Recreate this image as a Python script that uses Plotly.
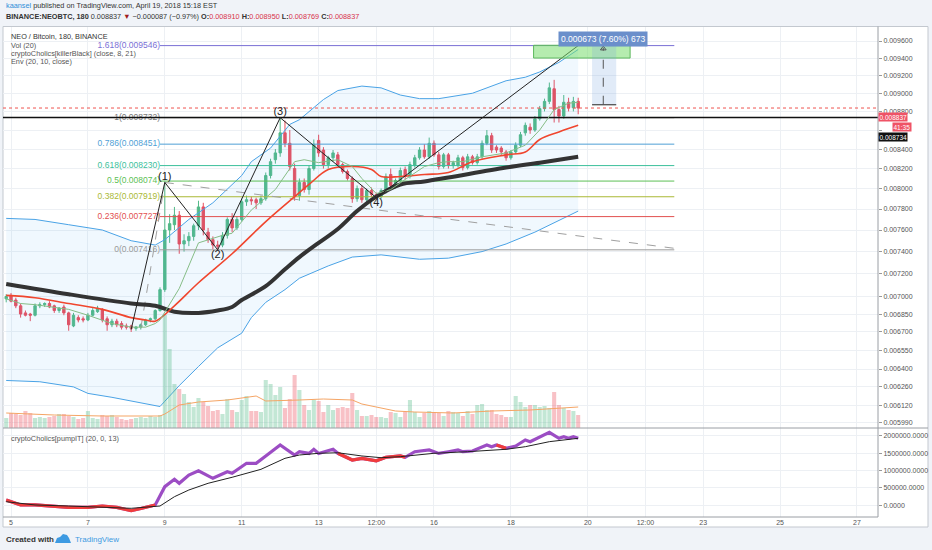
import numpy as np
import pandas as pd
import plotly.graph_objects as go

# NEO/BTC 3h bars, Binance
barStart = "2018-04-04 21:00"
numBars = 120

opens = [0.00698, 0.00701, 0.00697, 0.00692, 0.00686, 0.00685, 0.00684, 0.00692, 0.00693, 0.00694,
         0.00692, 0.00688, 0.00691, 0.00686, 0.00675, 0.00682, 0.00681, 0.00680, 0.00684, 0.00687,
         0.00689, 0.00681, 0.00676, 0.00679, 0.00677, 0.00675, 0.00675, 0.00673, 0.00674, 0.00676,
         0.00680, 0.00681, 0.00688, 0.00706, 0.00760, 0.00765, 0.00774, 0.00747, 0.00750, 0.00754,
         0.00764, 0.00782, 0.00758, 0.00751, 0.00746, 0.00746, 0.00755, 0.00770, 0.00762, 0.00770,
         0.00787, 0.00789, 0.00789, 0.00786, 0.00790, 0.00813, 0.00829, 0.00836, 0.00857, 0.00846,
         0.00820, 0.00793, 0.00806, 0.00799, 0.00820, 0.00849, 0.00839, 0.00824, 0.00831, 0.00834,
         0.00824, 0.00817, 0.00810, 0.00790, 0.00800, 0.00789, 0.00798, 0.00794, 0.00792, 0.00797,
         0.00814, 0.00803, 0.00808, 0.00819, 0.00812, 0.00823, 0.00831, 0.00839, 0.00832, 0.00846,
         0.00834, 0.00822, 0.00834, 0.00823, 0.00823, 0.00831, 0.00821, 0.00832, 0.00826, 0.00832,
         0.00846, 0.00854, 0.00842, 0.00841, 0.00837, 0.00831, 0.00837, 0.00844, 0.00857, 0.00863,
         0.00860, 0.00872, 0.00883, 0.00891, 0.00905, 0.00882, 0.00875, 0.00890, 0.00884, 0.008910]
highs = [0.00702, 0.00703, 0.00699, 0.00694, 0.00688, 0.00686, 0.00694, 0.00695, 0.00695, 0.00696,
         0.00693, 0.00691, 0.00693, 0.00687, 0.00686, 0.00684, 0.00683, 0.00686, 0.00690, 0.00692,
         0.00690, 0.00683, 0.00681, 0.00681, 0.00679, 0.00677, 0.00676, 0.00675, 0.00677, 0.00681,
         0.00682, 0.00689, 0.00708, 0.00807, 0.00775, 0.00782, 0.00778, 0.00756, 0.00758, 0.00766,
         0.00788, 0.00786, 0.00762, 0.00754, 0.00750, 0.00758, 0.00772, 0.00776, 0.00773, 0.00790,
         0.00793, 0.00792, 0.00791, 0.00793, 0.00816, 0.00830, 0.00840, 0.008732, 0.00870, 0.00860,
         0.00825, 0.00810, 0.00810, 0.00823, 0.00850, 0.00855, 0.00842, 0.00833, 0.00839, 0.00837,
         0.00826, 0.00819, 0.00812, 0.00803, 0.00803, 0.00800, 0.00801, 0.00796, 0.00800, 0.00815,
         0.00820, 0.00810, 0.00821, 0.00822, 0.00827, 0.00834, 0.00842, 0.00845, 0.00852, 0.00849,
         0.00837, 0.00836, 0.00836, 0.00828, 0.00834, 0.00833, 0.00835, 0.00834, 0.00835, 0.00849,
         0.00860, 0.00857, 0.00844, 0.00843, 0.00839, 0.00839, 0.00847, 0.00858, 0.00868, 0.00867,
         0.00875, 0.00886, 0.00894, 0.00912, 0.00915, 0.00886, 0.00898, 0.00895, 0.00896, 0.008950]
lows = [0.00695, 0.00695, 0.00690, 0.00682, 0.00683, 0.00679, 0.00683, 0.00690, 0.00691, 0.00690,
        0.00686, 0.00686, 0.00684, 0.00671, 0.00674, 0.00678, 0.00678, 0.00679, 0.00683, 0.00686,
        0.00678, 0.00671, 0.00674, 0.00674, 0.00672, 0.00672, 0.00670, 0.00671, 0.00672, 0.00675,
        0.00678, 0.00680, 0.00687, 0.00704, 0.00748, 0.00760, 0.00738, 0.00740, 0.00745, 0.00750,
        0.00760, 0.00755, 0.00748, 0.00742, 0.007416, 0.00744, 0.00752, 0.00758, 0.00760, 0.00768,
        0.00783, 0.00784, 0.00780, 0.00784, 0.00788, 0.00810, 0.00825, 0.00832, 0.00842, 0.00818,
        0.00788, 0.00788, 0.00796, 0.00794, 0.00818, 0.00832, 0.00820, 0.00820, 0.00827, 0.00822,
        0.00815, 0.00808, 0.00786, 0.00787, 0.00786, 0.00786, 0.00792, 0.00790, 0.00790, 0.00795,
        0.00800, 0.00800, 0.00806, 0.00809, 0.00810, 0.00821, 0.00829, 0.00830, 0.00830, 0.00832,
        0.00819, 0.00820, 0.00820, 0.00820, 0.00821, 0.00818, 0.00819, 0.00824, 0.00824, 0.00830,
        0.00844, 0.00836, 0.00836, 0.00834, 0.00828, 0.00829, 0.00835, 0.00842, 0.00854, 0.00856,
        0.00858, 0.00870, 0.00880, 0.00888, 0.00868, 0.00868, 0.00872, 0.00880, 0.00880, 0.008769]
closes = [0.00700, 0.00696, 0.00692, 0.00685, 0.00684, 0.00684, 0.00692, 0.00693, 0.00694, 0.00691,
          0.00688, 0.00690, 0.00686, 0.00676, 0.00684, 0.00680, 0.00680, 0.00684, 0.00688, 0.00690,
          0.00680, 0.00676, 0.00679, 0.00676, 0.00674, 0.00674, 0.00673, 0.00674, 0.00676, 0.00680,
          0.00681, 0.00688, 0.00706, 0.00760, 0.00766, 0.00774, 0.00747, 0.00750, 0.00754, 0.00764,
          0.00782, 0.00760, 0.00751, 0.00746, 0.00745, 0.00755, 0.00770, 0.00762, 0.00770, 0.00787,
          0.00789, 0.00788, 0.00786, 0.00790, 0.00813, 0.00827, 0.00836, 0.00857, 0.00846, 0.00822,
          0.00792, 0.00806, 0.00799, 0.00820, 0.00845, 0.00836, 0.00824, 0.00831, 0.00836, 0.00824,
          0.00817, 0.00810, 0.00790, 0.00800, 0.00789, 0.00798, 0.00794, 0.00792, 0.00798, 0.00812,
          0.00803, 0.00808, 0.00818, 0.00812, 0.00824, 0.00831, 0.00839, 0.00832, 0.00846, 0.00834,
          0.00822, 0.00834, 0.00823, 0.00826, 0.00831, 0.00821, 0.00832, 0.00826, 0.00832, 0.00846,
          0.00854, 0.00839, 0.00839, 0.00837, 0.00831, 0.00837, 0.00844, 0.00855, 0.00865, 0.00860,
          0.00872, 0.00883, 0.00891, 0.00906, 0.00882, 0.00875, 0.00890, 0.00884, 0.00891, 0.008837]
# relative volume (bar heights, arbitrary units)
volumes = [10, 15, 14, 13, 17, 15, 10, 11, 10, 11, 12, 14, 14, 12, 11, 9, 10, 17, 10, 9,
           13, 12, 13, 11, 9, 8, 9, 10, 11, 10, 12, 11, 13,
           113, 79, 44, 39, 34, 26, 21, 30, 26, 22, 17, 18, 14, 29, 18, 16, 28, 32, 17, 17,
           16, 48, 44, 33, 41, 20, 29, 53, 38, 23, 18, 28, 27, 16, 23, 18, 20, 21, 20, 35,
           18, 12, 12, 13, 11, 11, 10, 16, 15, 11, 16, 28, 16, 11, 15, 17, 16, 15, 12, 17,
           16, 15, 12, 17, 14, 23, 24, 18, 18, 14, 13, 11, 11, 32, 26, 21, 23, 23, 21, 22,
           20, 36, 23, 20, 18, 17, 13]

# indicator lines, read at selected bars (bar index, value)
fastIdx = [0, 3, 6, 13, 17, 22, 26, 29, 31, 32, 36, 40, 45, 47, 51, 56, 60, 62, 65, 69,
           72, 74, 77, 80, 83, 87, 90, 92, 95, 99, 104, 108, 111, 114, 117, 119]
fastVal = [0.00698, 0.00694, 0.00693, 0.00689, 0.00684, 0.00677, 0.00674, 0.00674, 0.00677, 0.00680,
           0.00707, 0.00748, 0.00755, 0.00757, 0.00779, 0.00799, 0.00827, 0.00829, 0.00826, 0.00829,
           0.00822, 0.00810, 0.00795, 0.00799, 0.00809, 0.00822, 0.00826, 0.00827, 0.00827, 0.00832,
           0.00836, 0.00844, 0.00860, 0.00882, 0.00889, 0.00890]
redIdx = [0, 6, 13, 20, 26, 29, 31, 35, 40, 47, 54, 60, 63, 67, 72, 76, 78, 82, 87, 92,
          97, 104, 108, 111, 115, 119]
redVal = [0.00701, 0.00699, 0.00694, 0.00689, 0.00682, 0.00680, 0.00679, 0.00692, 0.00712, 0.00738,
          0.00768, 0.00792, 0.00804, 0.00819, 0.00822, 0.00819, 0.00812, 0.00812, 0.00814, 0.00816,
          0.00827, 0.00834, 0.00837, 0.00850, 0.00858, 0.00865]
slowIdx = [0, 13, 26, 31, 35, 40, 44, 47, 49, 54, 58, 61, 65, 69, 73, 77, 82, 87, 92, 104, 111, 119]
slowVal = [0.00711, 0.00702, 0.00694, 0.00692, 0.00687, 0.00686, 0.00688, 0.00691, 0.00697, 0.00709,
           0.00724, 0.00735, 0.00748, 0.00761, 0.00778, 0.00792, 0.00804, 0.00807, 0.00811, 0.00821,
           0.00826, 0.00832]
envUpIdx = [0, 6, 13, 20, 26, 31, 33, 38, 43, 49, 51, 55, 59, 61, 66, 69, 74, 78, 82, 86,
            90, 97, 104, 108, 111, 115, 119]
envUpVal = [0.00771, 0.00770, 0.00765, 0.00760, 0.00750, 0.00746, 0.00751, 0.00770, 0.00786, 0.00813,
            0.00827, 0.00841, 0.00866, 0.00871, 0.00893, 0.00903, 0.00908, 0.00906, 0.00898, 0.00894,
            0.00894, 0.00900, 0.00914, 0.00918, 0.00924, 0.00935, 0.00950]
envLoIdx = [0, 7, 14, 17, 22, 29, 32, 33, 36, 40, 44, 49, 51, 54, 58, 61, 67, 72, 78, 86,
            92, 99, 104, 110, 115, 119]
envLoVal = [0.00631, 0.00630, 0.00626, 0.00621, 0.00618, 0.00613, 0.00611, 0.00615, 0.00627, 0.00642,
            0.00657, 0.00669, 0.00682, 0.00695, 0.00706, 0.00716, 0.00727, 0.00735, 0.00737, 0.00733,
            0.00734, 0.00740, 0.00747, 0.00758, 0.00769, 0.00778]
volMaIdx = [0, 10, 20, 32, 33, 36, 40, 46, 52, 54, 61, 66, 72, 74, 81, 85, 93, 101, 109, 119]
volMaVal = [15, 13, 12, 12, 14, 23, 26, 28, 32, 27, 28, 29, 28, 24, 17, 16, 15, 17, 18, 21]

pumpIdx = [0, 3, 6, 9, 13, 17, 20, 23, 26, 28, 31, 33, 35, 36, 38, 40, 43, 46, 47, 50,
           52, 54, 57, 60, 61, 63, 64, 65, 68, 69, 72, 74, 77, 79, 82, 83, 85, 88, 90, 92,
           94, 95, 97, 100, 101, 102, 104, 106, 108, 109, 113, 115, 116, 117, 118, 119]
pumpVal = [150000, 10000, 10000, -20000, -60000, -60000, -20000, -60000, -155000, -90000,
           10000, 535000, 747000, 632000, 870000, 994000, 776000, 966000, 920000, 1207000,
           1207000, 1417000, 1733000, 1445000, 1540000, 1490000, 1609000, 1490000, 1609000, 1494000,
           1300000, 1350000, 1280000, 1380000, 1417000, 1380000, 1540000, 1589000, 1490000, 1540000,
           1589000, 1540000, 1560000, 1733000, 1680000, 1733000, 1638000, 1704000, 1876000, 1828000,
           2098000, 1925000, 1970000, 1925000, 1970000, 1925000]
pumpRedRanges = [(0, 31), (69, 83), (102, 104)]
signalIdx = [0, 6, 13, 20, 26, 32, 35, 38, 42, 47, 53, 58, 61, 65, 69, 74, 78, 82, 89, 96,
             104, 108, 113, 119]
signalVal = [103000, 10000, -20000, -60000, -86000, -20000, 247000, 440000, 632000, 805000,
             1034000, 1350000, 1445000, 1494000, 1510000, 1417000, 1368000, 1397000, 1494000, 1540000,
             1609000, 1684000, 1828000, 1925000]

# drawings
fibRatios = ["1.618", "1", "0.786", "0.618", "0.5", "0.382", "0.236", "0"]
fibPrices = [0.009546, 0.008732, 0.008451, 0.008230, 0.008074, 0.007919, 0.007727, 0.007416]
fibColors = ["#7a70d6", "#7a7a7a", "#4f9fd6", "#3cbf9c", "#5cbf55", "#aab935", "#e2504f", "#9a9a9a"]
fibStart, fibEnd = "2018-04-08 21:00", "2018-04-22 06:00"

waveIdx = [26, 33, 44, 57, 77, 119]
wavePrice = [0.00672, 0.00806, 0.007416, 0.008732, 0.00791, 0.009546]
waveNames = ["", "(1)", "(2)", "(3)", "(4)", ""]

lastPrice = 0.008837
blackLevel = 0.008734

priceTicks = [0.0096, 0.0094, 0.0092, 0.0090, 0.0088, 0.0086, 0.0084, 0.0082, 0.0080, 0.0078,
              0.0076, 0.0074, 0.0072, 0.0070, 0.00685, 0.0067, 0.00655, 0.0064, 0.00626, 0.00612, 0.00599]
hiddenTicks = [0.0086]  # label sits under the price tags
pumpTicks = [0, 500000, 1000000, 1500000, 2000000]
dayTicks = ["2018-04-05", "2018-04-07", "2018-04-09", "2018-04-11", "2018-04-13", "2018-04-14 12:00",
            "2018-04-16", "2018-04-18", "2018-04-20", "2018-04-21 12:00", "2018-04-23", "2018-04-25",
            "2018-04-27"]
dayLabels = ["5", "7", "9", "11", "13", "12:00", "16", "18", "20", "12:00", "23", "25", "27"]

xStart, xEnd = "2018-04-04 19:00", "2018-04-27 13:08"

FONT = "Liberation Sans"
UP, DOWN = "#53b987", "#eb4d5c"


def px(x):
    return (x - 3) / 875.0


def py(y):
    return (517 - y) / 490.0


barTimes = pd.date_range(barStart, periods=numBars, freq="3h")


def at(idx):
    return barTimes[list(idx)]


fig = go.Figure()

# envelope
fig.add_trace(go.Scatter(x=at(envLoIdx), y=envLoVal, mode="lines", line=dict(color="#4aa3e6", width=1),
                         hoverinfo="skip"))
fig.add_trace(go.Scatter(x=at(envUpIdx), y=envUpVal, mode="lines", line=dict(color="#4aa3e6", width=1),
                         fill="tonexty", fillcolor="rgba(66,165,245,0.08)", hoverinfo="skip"))

# fib levels
for ratio, price, color in zip(fibRatios, fibPrices, fibColors):
    fig.add_trace(go.Scatter(x=[fibStart, fibEnd], y=[price, price], mode="lines",
                             line=dict(color=color, width=1), hoverinfo="skip"))
fig.add_trace(go.Scatter(x=[fibStart] * len(fibPrices), y=fibPrices, mode="text",
                         text=[f"{r}({p:.6f})" for r, p in zip(fibRatios, fibPrices)],
                         textposition="middle left",
                         textfont=dict(family=FONT, size=8.5, color=fibColors), hoverinfo="skip"))

# horizontal price lines
fig.add_trace(go.Scatter(x=[xStart, xEnd], y=[lastPrice, lastPrice], mode="lines",
                         line=dict(color="#ef5350", width=1, dash="dot"), hoverinfo="skip"))
fig.add_trace(go.Scatter(x=[xStart, xEnd], y=[blackLevel, blackLevel], mode="lines",
                         line=dict(color="#111111", width=1.5), hoverinfo="skip"))

# dashed trend lines
fig.add_trace(go.Scatter(x=[barTimes[33], fibEnd], y=[wavePrice[1], 0.00743], mode="lines",
                         line=dict(color="#a0a0a0", width=1, dash="dash"), hoverinfo="skip"))
fig.add_trace(go.Scatter(x=[barTimes[28], barTimes[33]], y=[0.00673, wavePrice[1]], mode="lines",
                         line=dict(color="#a0a0a0", width=1, dash="dash"), hoverinfo="skip"))

# candles
fig.add_trace(go.Candlestick(x=barTimes, open=opens, high=highs, low=lows, close=closes,
                             increasing=dict(line=dict(color=UP, width=1), fillcolor=UP),
                             decreasing=dict(line=dict(color=DOWN, width=1), fillcolor=DOWN),
                             hoverinfo="skip"))

# moving averages
fig.add_trace(go.Scatter(x=at(slowIdx), y=slowVal, mode="lines", line=dict(color="#333333", width=4, shape="spline"),
                         hoverinfo="skip"))
fig.add_trace(go.Scatter(x=at(redIdx), y=redVal, mode="lines", line=dict(color="#f0462e", width=1.6, shape="spline"),
                         hoverinfo="skip"))
fig.add_trace(go.Scatter(x=at(fastIdx), y=fastVal, mode="lines", line=dict(color="#86bd86", width=1),
                         hoverinfo="skip"))

# elliott waves
fig.add_trace(go.Scatter(x=at(waveIdx), y=wavePrice, mode="lines", line=dict(color="#222222", width=1),
                         hoverinfo="skip"))
fig.add_trace(go.Scatter(x=at(waveIdx[1:5]), y=wavePrice[1:5], mode="text", text=waveNames[1:5],
                         textposition=["top center", "bottom center", "top center", "bottom center"],
                         textfont=dict(family=FONT, size=11, color="#222222"), hoverinfo="skip"))

# measure tool
gx = ["2018-04-18 14:10", "2018-04-21 02:25", "2018-04-21 02:25", "2018-04-18 14:10", "2018-04-18 14:10"]
gy = [0.00940, 0.00940, 0.00955, 0.00955, 0.00940]
fig.add_trace(go.Scatter(x=gx, y=gy, mode="lines", fill="toself", fillcolor="rgba(120,220,110,0.55)",
                         line=dict(color="#5cb85c", width=1), hoverinfo="skip"))
bx = ["2018-04-20 02:40", "2018-04-20 17:45", "2018-04-20 17:45", "2018-04-20 02:40", "2018-04-20 02:40"]
by = [0.008873, 0.008873, 0.009546, 0.009546, 0.008873]
fig.add_trace(go.Scatter(x=bx, y=by, mode="lines", fill="toself", fillcolor="rgba(120,165,225,0.22)",
                         line=dict(width=0), hoverinfo="skip"))
fig.add_trace(go.Scatter(x=bx[:2], y=by[:2], mode="lines", line=dict(color="#444444", width=1.2),
                         hoverinfo="skip"))
fig.add_trace(go.Scatter(x=["2018-04-20 09:40", "2018-04-20 09:40"], y=[0.008873, 0.00952], mode="lines",
                         line=dict(color="#555555", width=1, dash="dash"), hoverinfo="skip"))
fig.add_trace(go.Scatter(x=["2018-04-20 09:40"], y=[0.00951], mode="markers",
                         marker=dict(symbol="triangle-up-open", size=5, color="#555555"), hoverinfo="skip"))

# volume overlay
volColors = ["rgba(83,185,135,0.35)" if c >= o else "rgba(235,77,92,0.35)" for o, c in zip(opens, closes)]
fig.add_trace(go.Bar(x=barTimes, y=volumes, marker=dict(color=volColors, line=dict(width=0)),
                     yaxis="y3", hoverinfo="skip"))
fig.add_trace(go.Scatter(x=at(volMaIdx), y=volMaVal, mode="lines", line=dict(color="#f5a565", width=1),
                         yaxis="y3", hoverinfo="skip"))

# pumpIT pane
pumpSeries = pd.Series(pumpVal, index=pumpIdx)
fig.add_trace(go.Scatter(x=at(pumpIdx), y=pumpVal, mode="lines", line=dict(color="#9c4dc4", width=3.2),
                         yaxis="y2", hoverinfo="skip"))
for lo, hi in pumpRedRanges:
    part = pumpSeries[(pumpSeries.index >= lo) & (pumpSeries.index <= hi)]
    fig.add_trace(go.Scatter(x=at(part.index), y=part.values, mode="lines", line=dict(color="#f03c3c", width=3.2),
                             yaxis="y2", hoverinfo="skip"))
fig.add_trace(go.Scatter(x=at(signalIdx), y=signalVal, mode="lines", line=dict(color="#222222", width=1),
                         yaxis="y2", hoverinfo="skip"))

priceLo = 0.005950
priceHi = 0.009768
gridColor = "#edf0f4"
tickFont = dict(family=FONT, size=7, color="#555555")

fig.update_layout(
    width=932, height=550,
    margin=dict(l=3, r=54, t=27, b=33),
    paper_bgcolor="#f0f3f8",
    plot_bgcolor="rgba(0,0,0,0)",
    showlegend=False,
    bargap=0.15,
    font=dict(family=FONT, color="#333333"),
    xaxis=dict(type="date", range=[xStart, xEnd], anchor="y2", domain=[0, 1],
               tickvals=dayTicks, ticktext=dayLabels, tickfont=tickFont, ticks="",
               showgrid=True, gridcolor=gridColor, zeroline=False, showline=False,
               rangeslider=dict(visible=False), fixedrange=True),
    yaxis=dict(type="log", range=[np.log10(priceLo), np.log10(priceHi)], domain=[py(428), 1],
               side="right", anchor="x", tickvals=priceTicks,
               ticktext=["" if v in hiddenTicks else f"{v:.6f}" for v in priceTicks],
               tickfont=tickFont, ticks="outside", ticklen=3, tickcolor="#999999",
               showgrid=True, gridcolor=gridColor, zeroline=False, showline=False),
    yaxis2=dict(range=[-336000, 2221000], domain=[0, py(428)], side="right", anchor="x",
                tickvals=pumpTicks, ticktext=[f"{v:.4f}" for v in pumpTicks],
                tickfont=tickFont, ticks="outside", ticklen=3, tickcolor="#999999",
                showgrid=True, gridcolor=gridColor, zeroline=False, showline=False),
    yaxis3=dict(overlaying="y", range=[0, 401], visible=False),
)

shapes = [
    dict(type="rect", xref="paper", yref="paper", x0=px(3), x1=px(928), y0=py(527), y1=py(26.5),
         fillcolor="white", line=dict(color="#c3c8cf", width=1), layer="below"),
    dict(type="line", xref="paper", yref="paper", x0=1, x1=1, y0=0, y1=py(26.5),
         line=dict(color="#9a9ea4", width=1)),
    dict(type="line", xref="paper", yref="paper", x0=0, x1=px(928), y0=py(428), y1=py(428),
         line=dict(color="#9a9ea4", width=1)),
    dict(type="line", xref="paper", yref="paper", x0=0, x1=1, y0=0, y1=0,
         line=dict(color="#9a9ea4", width=1)),
    dict(type="path", xref="paper", yref="paper", fillcolor="#3d9ae2", line=dict(width=0),
         path="M {} {} L {} {} L {} {} L {} {} L {} {} L {} {} L {} {} Z".format(
             px(55), py(543), px(57), py(538), px(60), py(537), px(63), py(534),
             px(67), py(535), px(69), py(538), px(71), py(543))),
]
fig.update_layout(shapes=shapes)

ann = []


def note(x, y, text, size=7.3, color="#333333", xanchor="left", **kw):
    ann.append(dict(xref="paper", yref="paper", x=x, y=y, text=text, showarrow=False,
                    xanchor=xanchor, yanchor="middle", font=dict(family=FONT, size=size, color=color), **kw))


red = "#d8324a"
note(px(4), py(6), "<span style='color:#2f8fd8'>kaansel</span> published on TradingView.com, April 19, 2018 15:18 EST")
note(px(4), py(17), "<b>BINANCE:NEOBTC, 180</b> 0.008837 <span style='color:#a01c1c'>▼</span> −0.000087 (−0.97%) "
     f"<b>O:</b><span style='color:{red}'>0.008910</span> <b>H:</b><span style='color:{red}'>0.008950</span> "
     f"<b>L:</b><span style='color:{red}'>0.008769</span> <b>C:</b><span style='color:{red}'>0.008837</span>")
note(px(9), py(36), "NEO / Bitcoin, 180, BINANCE", color="#333333")
note(px(9), py(45), "Vol (20)", color="#555555")
note(px(9), py(53.5), "cryptoCholics[killerBlack] (close, 8, 21)", color="#555555")
note(px(9), py(62), "Env (20, 10, close)", color="#555555")
note(px(9), py(438.3), "cryptoCholics[pumpIT] (20, 0, 13)", color="#555555")
note(px(4), py(539), "<b>Created with</b>", size=8, color="#333333")
note(px(73), py(539), "TradingView", size=8, color="#3d9ae2")

note(1.0, py(117), "0.008837", size=6.5, color="white", bgcolor="#ef5366", borderpad=0.5)
note(px(912), py(127), "41:35", size=6.5, color="white", xanchor="right", bgcolor="#ef5366", borderpad=0.5)
note(1.0, py(137), "0.008734", size=6.5, color="white", bgcolor="#111111", borderpad=0.5)
note(px(603), py(39), "0.000673 (7.60%) 673", size=8.5, color="white", xanchor="center",
     bgcolor="#6b8fcb", borderpad=2)

fig.update_layout(annotations=ann)

# the page body has a default 8px margin; drop it so the figure sits at the window corner
fig.write_html("out.html", config={"displayModeBar": False},
               post_script="document.body.style.margin='0px';")
